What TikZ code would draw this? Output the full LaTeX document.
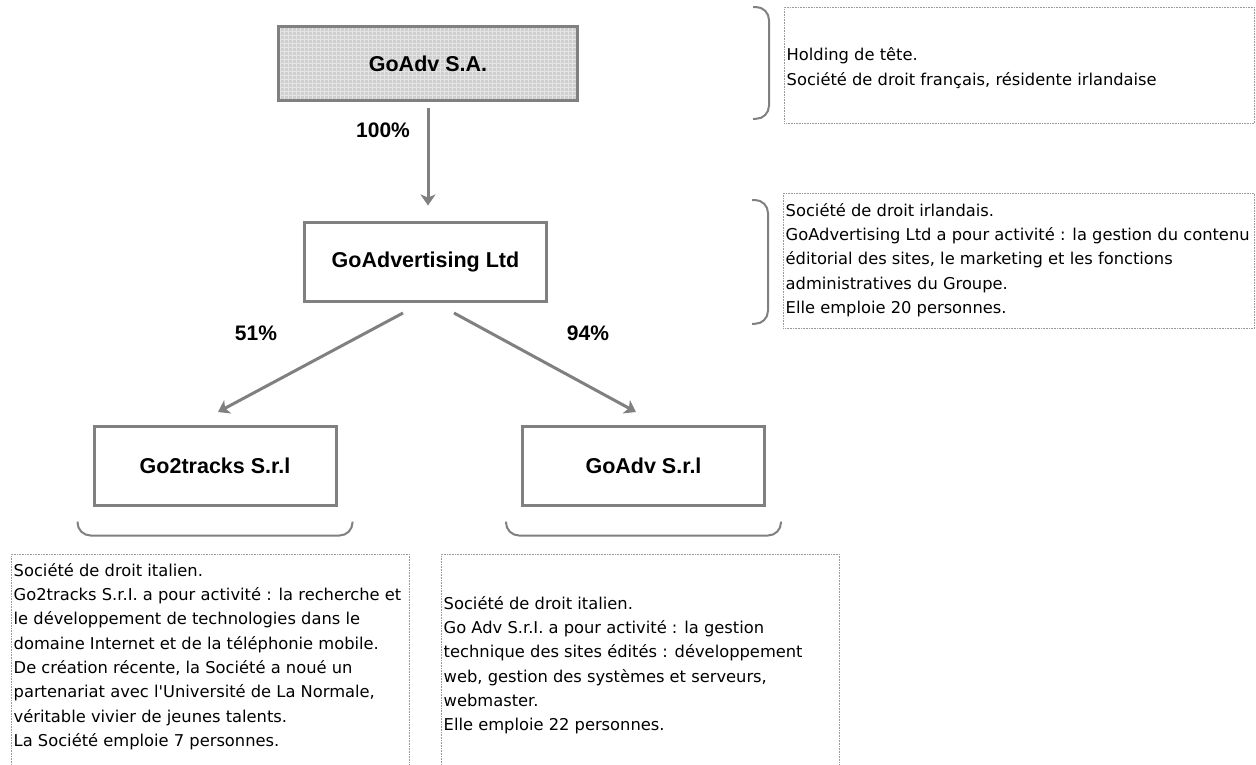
\documentclass[tikz,border=0pt]{standalone}
\usepackage{fontspec}
\usetikzlibrary{arrows.meta}
\newfontfamily\descfont{DejaVu Sans}
\newfontfamily\labelfont{Liberation Sans}
\definecolor{linegray}{HTML}{808080}
\definecolor{dotgray}{HTML}{9A9A9A}
\definecolor{shadegray}{HTML}{CFCFCF}
\definecolor{gridgray}{HTML}{E4E4E4}

\tikzset{
  company/.style={draw=linegray, line width=3pt, minimum width=242pt, minimum height=79pt,
    font=\labelfont\bfseries\fontsize{21.5}{26}\selectfont},
  holding/.style={company, fill=shadegray, minimum width=299pt, minimum height=74pt,
    path picture={\draw[gridgray, line width=0.8pt, step=4pt]
      (path picture bounding box.south west) grid (path picture bounding box.north east);}},
  share/.style={-{Stealth[length=11pt,width=15pt,inset=3pt]}, draw=linegray, line width=3pt},
  pct/.style={font=\labelfont\bfseries\fontsize{21}{25}\selectfont},
  infobox/.style={draw=dotgray, line width=0.8pt, dash pattern=on 0.8pt off 0.8pt,
    inner sep=0pt, anchor=north west},
  infotext/.style={anchor=north west, align=left, inner sep=0pt,
    font=\descfont\fontsize{16.3}{24.3}\selectfont},
  brace/.style={draw=linegray, line width=2pt, rounded corners=13pt},
}

\begin{document}
\begin{tikzpicture}[x=1pt, y=-1pt]
\useasboundingbox (0,0) rectangle (1256,764);

% companies
\node[holding] (sa) at (428,63.5) {GoAdv S.A.};
\node[company] (ltd) at (425.5,261.5) {GoAdvertising Ltd};
\node[company] (g2t) at (215,465.5) {Go2tracks S.r.l};
\node[company] (adv) at (643.5,465.5) {GoAdv S.r.l};

% shareholdings
\draw[share] ([yshift=-6pt]sa.south) -- ([yshift=15pt]sa.south |- ltd.north);
\draw[share] ([xshift=-22.5pt,yshift=-10.5pt]ltd.south) -- ([xshift=3pt,yshift=12.5pt]g2t.north);
\draw[share] ([xshift=28.5pt,yshift=-10.5pt]ltd.south) -- ([xshift=-7.5pt,yshift=12.5pt]adv.north);
\node[pct] (p100) at (383,130) {100\%};
\node[pct] (p51) at (256,333) {51\%};
\node[pct] (p94) at (588,333) {94\%};

% descriptions
\node[infobox, minimum width=470pt, minimum height=116pt] (hold) at (784,7) {};
\node[infobox, minimum width=471pt, minimum height=135pt] (ltdinfo) at (783,193) {};
\node[infobox, minimum width=398pt, minimum height=212pt] (g2tinfo) at (11,554) {};
\node[infobox, minimum width=398pt, minimum height=212pt] (advinfo) at (441,554) {};

\node[infotext] (holdtext) at (786.5,43.5) {\strut Holding de tête.\\
  Société de droit français, résidente irlandaise};
\node[infotext] (ltdtext) at (785.5,199) {\strut Société de droit irlandais.\\
  GoAdvertising Ltd a pour activité : la gestion du contenu\\
  éditorial des sites, le marketing et les fonctions\\
  administratives du Groupe.\\
  Elle emploie 20 personnes.};
\node[infotext] (g2ttext) at (13.5,559) {\strut Société de droit italien.\\
  Go2tracks S.r.I. a pour activité : la recherche et\\
  le développement de technologies dans le\\
  domaine Internet et de la téléphonie mobile.\\
  De création récente, la Société a noué un\\
  partenariat avec l'Université de La Normale,\\
  véritable vivier de jeunes talents.\\
  La Société emploie 7 personnes.};
\node[infotext] (advtext) at (443.5,592) {\strut Société de droit italien.\\
  Go Adv S.r.I. a pour activité : la gestion\\
  technique des sites édités : développement\\
  web, gestion des systèmes et serveurs,\\
  webmaster.\\
  Elle emploie 22 personnes.};

% braces
\draw[brace] ([xshift=-31pt]hold.north west) -| ([xshift=-15pt,yshift=5pt]hold.south west)
  -- ([xshift=-31pt,yshift=5pt]hold.south west);
\draw[brace] ([xshift=-31pt,yshift=-7pt]ltdinfo.north west) -| ([xshift=-15pt,yshift=5pt]ltdinfo.south west)
  -- ([xshift=-31pt,yshift=5pt]ltdinfo.south west);
\draw[brace] ([xshift=-15pt,yshift=-15pt]g2t.south west) |- ([yshift=-29pt]g2t.south)
  -| ([xshift=15pt,yshift=-15pt]g2t.south east);
\draw[brace] ([xshift=-15pt,yshift=-15pt]adv.south west) |- ([yshift=-29pt]adv.south)
  -| ([xshift=15pt,yshift=-15pt]adv.south east);
\end{tikzpicture}
\end{document}
